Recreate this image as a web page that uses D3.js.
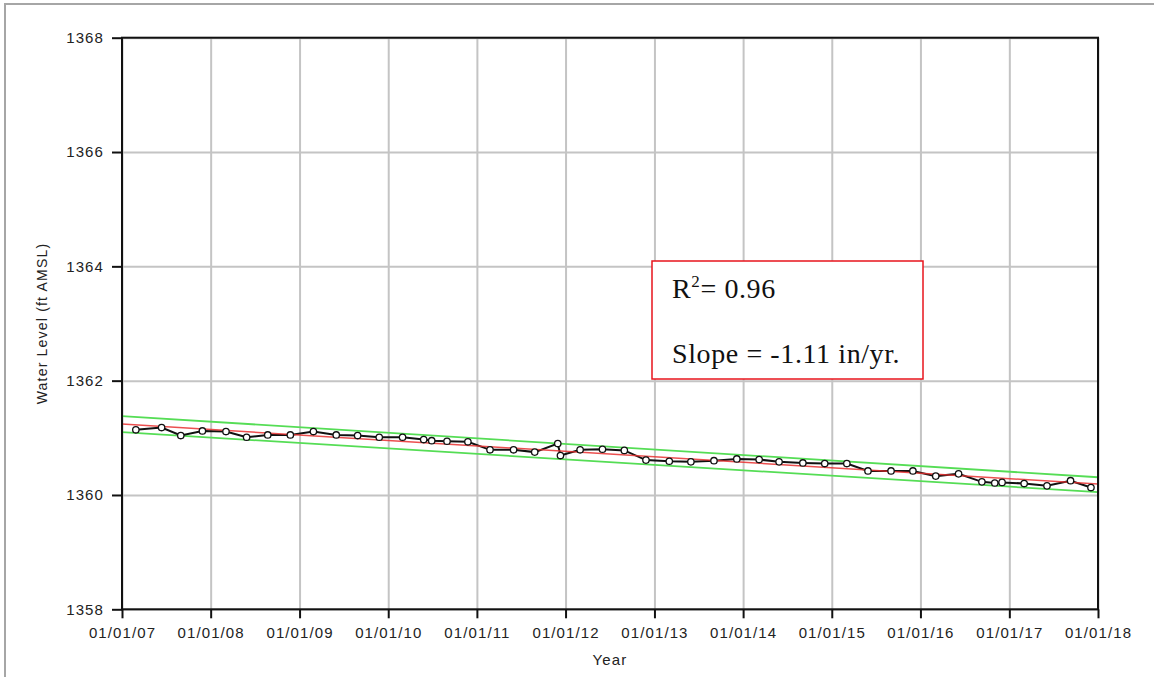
<!DOCTYPE html>
<html>
<head>
<meta charset="utf-8">
<script src="https://cdn.jsdelivr.net/npm/d3@7"></script>
<style>
  body { margin: 0; background: #fff; }
  svg { display: block; }
  .tick-label { font-family: "Liberation Sans", Arial, sans-serif; font-size: 15px; fill: #222; letter-spacing: 1.1px; }
  .axis-title { font-family: "Liberation Sans", Arial, sans-serif; fill: #222; letter-spacing: 1.2px; }
  .note { font-family: "Liberation Serif", "Times New Roman", serif; font-size: 28px; fill: #111; letter-spacing: 0.6px; }
</style>
</head>
<body>
<div id="chart"></div>
<script>
// Observed water levels (ft AMSL)
const sampleDates = [
  "2007-02-27", "2007-06-13", "2007-08-31", "2007-11-28", "2008-03-04", "2008-05-28",
  "2008-08-23", "2008-11-24", "2009-02-27", "2009-06-01", "2009-08-28", "2009-11-25",
  "2010-03-01", "2010-05-27", "2010-06-29", "2010-08-31", "2010-11-25", "2011-02-24",
  "2011-06-01", "2011-08-27", "2011-11-30", "2011-12-11", "2012-03-01", "2012-06-01",
  "2012-08-30", "2012-11-27", "2013-03-03", "2013-05-31", "2013-09-03", "2013-12-06",
  "2014-03-08", "2014-05-29", "2014-09-04", "2014-12-03", "2015-03-04", "2015-05-30",
  "2015-09-02", "2015-12-01", "2016-03-04", "2016-06-06", "2016-09-10", "2016-11-02",
  "2016-12-02", "2017-03-03", "2017-06-05", "2017-09-10", "2017-12-03"
];
const waterLevels = [
  1361.14, 1361.18, 1361.04, 1361.12, 1361.11, 1361.01,
  1361.05, 1361.05, 1361.11, 1361.05, 1361.04, 1361.01,
  1361.01, 1360.97, 1360.95, 1360.94, 1360.93, 1360.79,
  1360.79, 1360.75, 1360.90, 1360.69, 1360.79, 1360.80,
  1360.78, 1360.61, 1360.59, 1360.58, 1360.60, 1360.63,
  1360.62, 1360.58, 1360.56, 1360.55, 1360.55, 1360.42,
  1360.42, 1360.42, 1360.33, 1360.37, 1360.23, 1360.21,
  1360.22, 1360.20, 1360.16, 1360.25, 1360.13
];

// Regression line and bounds (end points)
const trendDates = ["2007-01-01", "2018-01-01"];
const fitValues = [1361.24, 1360.19];
const upperValues = [1361.38, 1360.31];
const lowerValues = [1361.10, 1360.05];

// Axis ticks
const xTickDates = ["2007-01-01", "2008-01-01", "2009-01-01", "2010-01-01", "2011-01-01", "2012-01-01",
  "2013-01-01", "2014-01-01", "2015-01-01", "2016-01-01", "2017-01-01", "2018-01-01"];
const yTicks = [1358, 1360, 1362, 1364, 1366, 1368];

const W = 1154, H = 677;
const plot = { left: 122, right: 1098, top: 37.7, bottom: 609.3 };

const parse = d3.timeParse("%Y-%m-%d");
const fmt = d3.timeFormat("%m/%d/%y");

const svg = d3.select("#chart").append("svg")
  .attr("width", W).attr("height", H);

// outer frame (top and left edges of the page image)
svg.append("path")
  .attr("d", `M5,${H} L5,4 L${W},4`)
  .attr("fill", "none")
  .attr("stroke", "#a6a6a6")
  .attr("stroke-width", 2);

const x = d3.scaleTime()
  .domain([parse("2007-01-01"), parse("2018-01-01")])
  .range([plot.left, plot.right]);

const y = d3.scaleLinear()
  .domain([1358, 1368])
  .range([plot.bottom, plot.top]);

const xTicks = xTickDates.map(parse);

// gridlines
svg.append("g")
  .attr("transform", `translate(0,${plot.bottom})`)
  .call(d3.axisBottom(x).tickValues(xTicks).tickSize(-(plot.bottom - plot.top)).tickFormat(""))
  .call(g => g.select(".domain").remove())
  .call(g => g.selectAll("line").attr("stroke", "#c4c4c4").attr("stroke-width", 2));

svg.append("g")
  .attr("transform", `translate(${plot.left},0)`)
  .call(d3.axisLeft(y).tickValues(yTicks).tickSize(-(plot.right - plot.left)).tickFormat(""))
  .call(g => g.select(".domain").remove())
  .call(g => g.selectAll("line").attr("stroke", "#c4c4c4").attr("stroke-width", 2));

// trend lines
const trendLine = d3.line()
  .x(d => x(d.date))
  .y(d => y(d.value));

const makeTrend = vals => trendDates.map((d, i) => ({ date: parse(d), value: vals[i] }));

[upperValues, lowerValues].forEach(vals => {
  svg.append("path")
    .datum(makeTrend(vals))
    .attr("fill", "none")
    .attr("stroke", "#55dd55")
    .attr("stroke-width", 1.8)
    .attr("d", trendLine);
});

// observed series
const data = sampleDates.map((d, i) => ({ date: parse(d), value: waterLevels[i] }));

svg.append("path")
  .datum(data)
  .attr("fill", "none")
  .attr("stroke", "#111")
  .attr("stroke-width", 2)
  .attr("d", trendLine);

svg.append("path")
  .datum(makeTrend(fitValues))
  .attr("fill", "none")
  .attr("stroke", "#e83030")
  .attr("stroke-opacity", 0.85)
  .attr("stroke-width", 1.5)
  .attr("d", trendLine);

svg.append("g")
  .selectAll("circle")
  .data(data)
  .join("circle")
  .attr("cx", d => x(d.date))
  .attr("cy", d => y(d.value))
  .attr("r", 3.2)
  .attr("fill", "#fff")
  .attr("stroke", "#111")
  .attr("stroke-width", 1.3);

// plot frame
svg.append("rect")
  .attr("x", plot.left).attr("y", plot.top)
  .attr("width", plot.right - plot.left)
  .attr("height", plot.bottom - plot.top)
  .attr("fill", "none")
  .attr("stroke", "#111")
  .attr("stroke-width", 2);

// axes with outward ticks
const xAxis = svg.append("g")
  .attr("transform", `translate(0,${plot.bottom})`)
  .call(d3.axisBottom(x).tickValues(xTicks).tickSize(9).tickPadding(9).tickFormat(fmt));
xAxis.select(".domain").remove();
xAxis.selectAll("line").attr("stroke", "#111").attr("stroke-width", 2);
xAxis.selectAll("text").attr("class", "tick-label");

const yAxis = svg.append("g")
  .attr("transform", `translate(${plot.left},0)`)
  .call(d3.axisLeft(y).tickValues(yTicks).tickSize(10).tickPadding(8).tickFormat(d3.format("d")));
yAxis.select(".domain").remove();
yAxis.selectAll("line").attr("stroke", "#111").attr("stroke-width", 2);
yAxis.selectAll("text").attr("class", "tick-label");
xAxis.attr("font-family", null).attr("font-size", null);
yAxis.attr("font-family", null).attr("font-size", null);

// axis titles
svg.append("text")
  .attr("class", "axis-title")
  .attr("x", (plot.left + plot.right) / 2)
  .attr("y", 665)
  .attr("text-anchor", "middle")
  .style("font-size", "15px")
  .text("Year");

svg.append("text")
  .attr("class", "axis-title")
  .attr("transform", `translate(47,${(plot.top + plot.bottom) / 2}) rotate(-90)`)
  .attr("text-anchor", "middle")
  .style("font-size", "14px")
  .text("Water Level (ft AMSL)");

// annotation box
svg.append("rect")
  .attr("x", 652).attr("y", 261)
  .attr("width", 271).attr("height", 118)
  .attr("fill", "#fff")
  .attr("stroke", "#e8141c")
  .attr("stroke-width", 1.5);

const r2 = svg.append("text")
  .attr("class", "note")
  .attr("x", 672).attr("y", 298);
r2.append("tspan").text("R");
r2.append("tspan").attr("dy", -11).style("font-size", "17px").text("2");
r2.append("tspan").attr("dy", 11).text("= 0.96");

svg.append("text")
  .attr("class", "note")
  .attr("x", 672).attr("y", 363)
  .text("Slope = -1.11 in/yr.");
</script>
</body>
</html>
